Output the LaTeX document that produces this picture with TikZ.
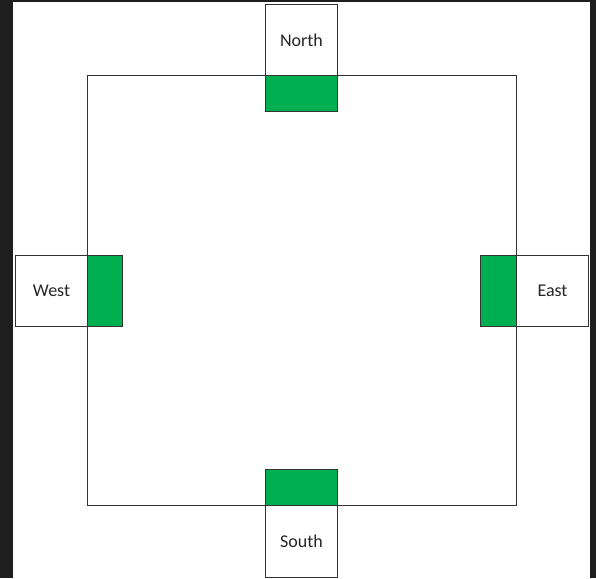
\documentclass[tikz,border=0pt]{standalone}
\usepackage{fontspec}
\setmainfont{Carlito}
\definecolor{framedark}{HTML}{1E1E1E}
\definecolor{officegreen}{HTML}{00B050}
\definecolor{linegray}{HTML}{333333}
\begin{document}
\begin{tikzpicture}[x=1pt,y=-1pt,
  outline/.style={draw=linegray, line width=1pt, inner sep=0pt},
  labelbox/.style={outline, fill=white, text=black!85, font=\fontsize{18}{20}\selectfont},
  greenbox/.style={outline, fill=officegreen}]
\useasboundingbox (0,0) rectangle (596,578);
\fill[framedark] (0,0) rectangle (596,578);
\fill[white] (13,2) rectangle (590,578);
% field
\node[outline, minimum width=429pt, minimum height=430pt, anchor=north west] (field) at (87,75) {};
% green boxes
\node[greenbox, minimum width=72pt, minimum height=36pt, anchor=north west] (ng) at (265,75) {};
\node[greenbox, minimum width=72pt, minimum height=36pt, anchor=north west] (sg) at (265,469) {};
\node[greenbox, minimum width=35pt, minimum height=71pt, anchor=north west] (wg) at (87,255) {};
\node[greenbox, minimum width=36pt, minimum height=71pt, anchor=north west] (eg) at (480,255) {};
% label boxes
\node[labelbox, minimum width=72pt, minimum height=71pt, anchor=north west] (north) at (265,4) {North};
\node[labelbox, minimum width=72pt, minimum height=72pt, anchor=north west] (south) at (265,505) {South};
\node[labelbox, minimum width=72pt, minimum height=71pt, anchor=north west] (west) at (15,255) {West};
\node[labelbox, minimum width=72pt, minimum height=71pt, anchor=north west] (east) at (516,255) {East};
\end{tikzpicture}
\end{document}
